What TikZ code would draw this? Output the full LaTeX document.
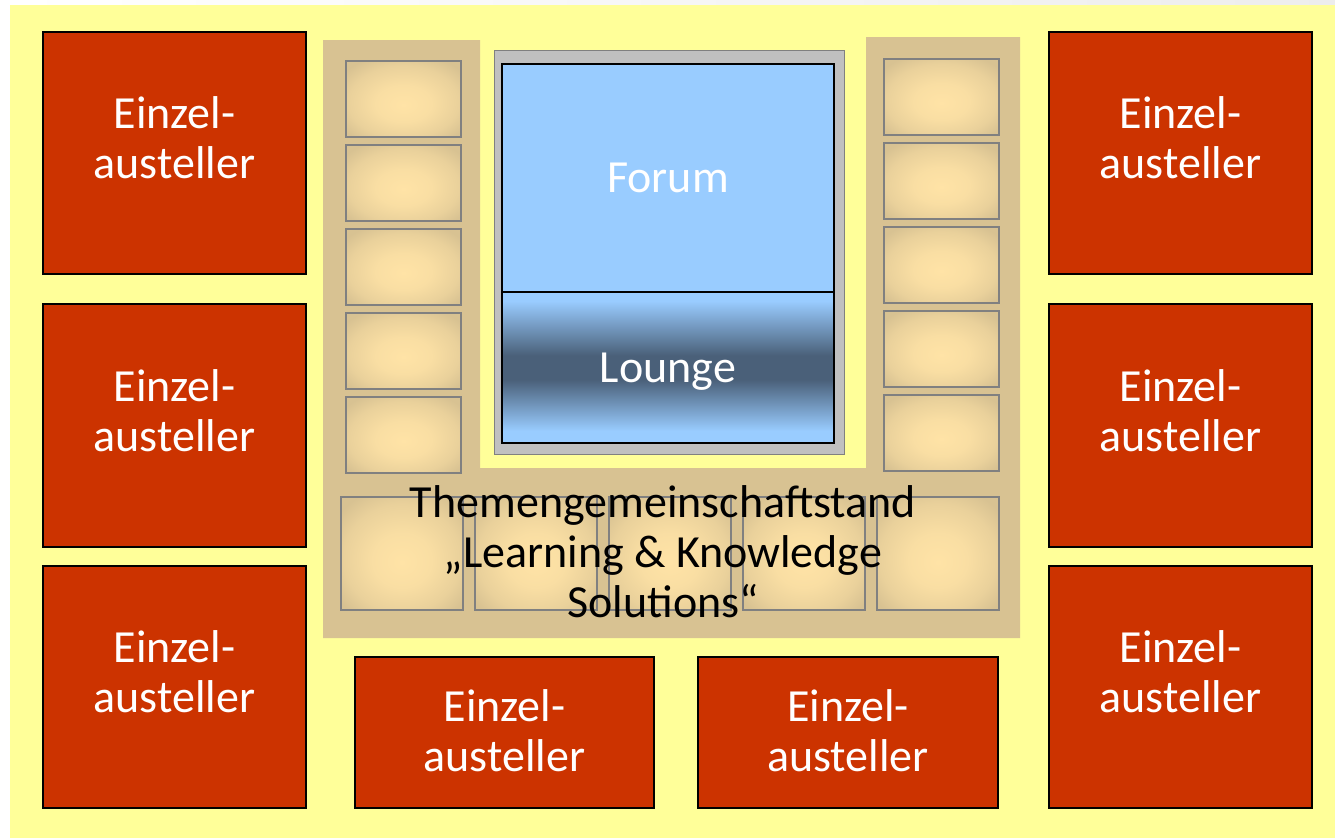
\documentclass[tikz,border=0pt]{standalone}
\usepackage{fontspec}
\newfontfamily\standfont{Carlito}
\definecolor{hall}{HTML}{FFFF99}
\definecolor{standred}{HTML}{CC3300}
\definecolor{themetan}{HTML}{D8C292}
\definecolor{boothlight}{HTML}{FFE3A6}
\definecolor{boothedge}{HTML}{808080}
\definecolor{forumblue}{HTML}{99CCFF}
\definecolor{loungedark}{HTML}{4A6079}
\definecolor{framegrey}{HTML}{C0C0C0}
\pgfdeclareverticalshading{loungeshading}{100bp}{color(0bp)=(forumblue); color(29bp)=(forumblue);
  color(46bp)=(loungedark); color(54bp)=(loungedark); color(72bp)=(forumblue); color(100bp)=(forumblue)}
\pgfdeclareradialshading{boothshading}{\pgfpoint{0bp}{-4bp}}{color(0bp)=(boothlight); color(12bp)=(boothlight!85!themetan);
  color(24bp)=(boothlight!45!themetan); color(32bp)=(themetan); color(50bp)=(themetan)}
\begin{document}
\begin{tikzpicture}[x=1pt, y=-1pt,
    stand/.style ={rectangle, draw=black, line width=2pt, fill=standred, inner sep=0pt},
    standtext/.style ={text=white, align=center, inner sep=0pt, font=\standfont\fontsize{46}{50}\selectfont},
    booth/.style ={rectangle, draw=boothedge, line width=2.5pt, shading=boothshading, inner sep=0pt},
    room/.style ={rectangle, draw=black, line width=2pt, inner sep=0pt, minimum width=332pt}]
   \useasboundingbox (0,0) rectangle (1335,838);
   \fill[white] (0,0) rectangle (1335,838);
   \fill[left color=white, right color=black!7] (10,0) rectangle (1335,5);
   \fill[hall] (10,5) rectangle (1335,838);

   % Einzelaussteller
   \foreach \n/\x/\y/\w/\h/\s in {1/174.5/153/263/242/15, 2/174.5/425.5/263/243/15, 3/174.5/687/263/242/15,
       4/1180.5/153/263/242/15, 5/1180.5/425.5/263/243/15, 6/1180.5/687/263/242/15,
       7/504.5/732.5/299/151/1.5, 8/848/732.5/300/151/1.5} {
     \node[stand, minimum width=\w pt, minimum height=\h pt] (e\n) at (\x,\y) {};
     \node[standtext] (e\n text) at ([yshift=\s pt]e\n.center) {Einzel-\\austeller};
   }

   % Themengemeinschaftstand
   \fill[themetan] (323,40) -- (480,40) -- (480,468) -- (866,468) -- (866,37)
     -- (1020,37) -- (1020,638) -- (323,638) -- cycle;
   \foreach \i in {0,...,4} {
     \node[booth, minimum width=115pt, minimum height=76pt] (bl\i) at (403.5,99+84*\i) {};
     \node[booth, minimum width=115pt, minimum height=76pt] (br\i) at (941.5,97+84*\i) {};
     \node[booth, minimum width=122pt, minimum height=113pt] (bb\i) at (402+134*\i,553.5) {};
   }
   \node[inner sep=0pt, align=center, font=\standfont\fontsize{46}{50}\selectfont] (themen)
     at (663,552) {Themengemeinschaftstand\\„Learning \& Knowledge\\Solutions“};

   % Forum und Lounge
   \node[rectangle, draw=boothedge, fill=framegrey, minimum width=350pt, minimum height=404pt] (frame)
     at (669.5,252.5) {};
   \node[room, fill=forumblue, minimum height=228pt, text=white, font=\standfont\fontsize{46}{50}\selectfont]
     (forum) at (668,178) {Forum};
   \node[room, shading=loungeshading, minimum height=151pt, text=white, text depth=0pt,
     font=\standfont\fontsize{46}{50}\selectfont] (lounge) at (668,367.5) {Lounge};
 \end{tikzpicture}
\end{document}
